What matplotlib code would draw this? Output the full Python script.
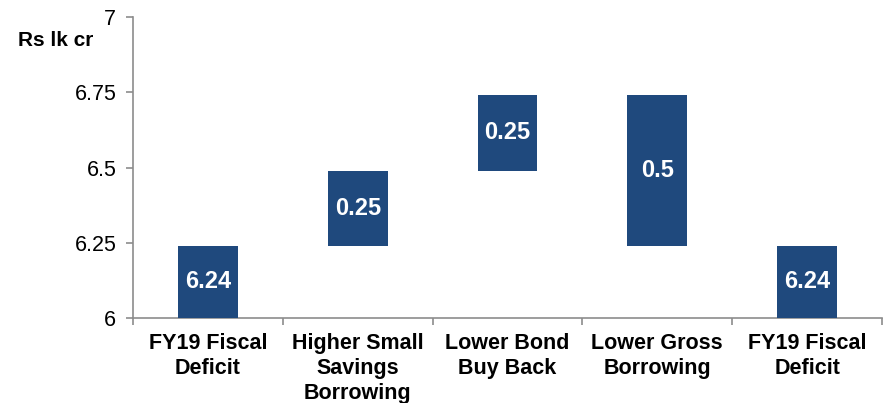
import matplotlib
matplotlib.use("Agg")
import matplotlib.pyplot as plt
from matplotlib.ticker import FixedLocator, NullFormatter

plt.rcParams['font.family'] = ['Liberation Sans', 'DejaVu Sans']

categories = ["FY19 Fiscal\nDeficit", "Higher Small\nSavings\nBorrowing",
              "Lower Bond\nBuy Back", "Lower Gross\nBorrowing", "FY19 Fiscal\nDeficit"]
bar_bottoms = [6.0, 6.24, 6.49, 6.24, 6.0]
bar_values = [0.24, 0.25, 0.25, 0.5, 0.24]
bar_labels = ["6.24", "0.25", "0.25", "0.5", "6.24"]
yticks = [6, 6.25, 6.5, 6.75, 7]
ytick_labels = ["6", "6.25", "6.5", "6.75", "7"]

bar_color = "#1f497d"
spine_color = "#8c8c8c"

fig = plt.figure(figsize=(8.84, 4.03), dpi=100)
ax = fig.add_axes([133 / 884, 1 - 318 / 403, (882 - 133) / 884, (318 - 17) / 403])

x = list(range(len(categories)))
ax.bar(x, bar_values, bottom=bar_bottoms, width=0.4, color=bar_color, zorder=3)

for xi, b, v, lab in zip(x, bar_bottoms, bar_values, bar_labels):
    ax.text(xi, b + v / 2, lab, ha="center", va="center",
            color="white", fontsize=17, fontweight="bold", zorder=4)

ax.set_xlim(-0.5, len(categories) - 0.5)
ax.set_ylim(6, 7)
ax.set_yticks(yticks)
ax.set_yticklabels(ytick_labels, fontsize=15.5)

ax.set_xticks(x)
ax.set_xticklabels(categories, fontsize=15.5, fontweight="bold", linespacing=1.25)
ax.tick_params(axis="x", which="major", length=0, pad=11)
ax.xaxis.set_minor_locator(FixedLocator([i - 0.5 for i in range(len(categories) + 1)]))
ax.xaxis.set_minor_formatter(NullFormatter())
ax.tick_params(axis="x", which="minor", length=5, color=spine_color, width=1.2)
ax.tick_params(axis="y", length=5, color=spine_color, width=1.2, pad=7)

for side in ["top", "right"]:
    ax.spines[side].set_visible(False)
for side in ["left", "bottom"]:
    ax.spines[side].set_color(spine_color)
    ax.spines[side].set_linewidth(1.2)

fig.text(18 / 884, 1 - 41 / 403, "Rs lk cr", fontsize=15, fontweight="bold",
         ha="left", va="center")

fig.savefig("out.png", dpi=100)
